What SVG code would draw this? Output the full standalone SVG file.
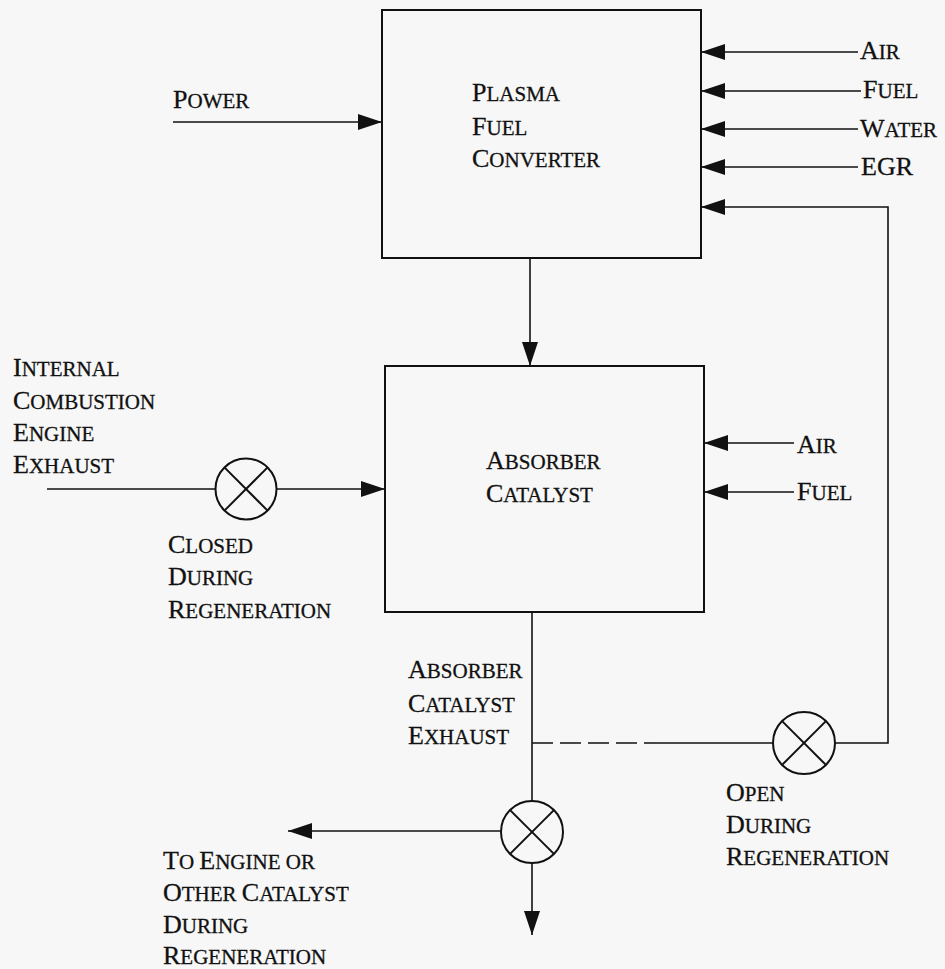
<svg xmlns="http://www.w3.org/2000/svg" width="945" height="969" viewBox="0 0 945 969">
<style>
text{font-family:"Liberation Serif","Times New Roman",serif;font-size:26px;fill:#111;stroke:#111;stroke-width:0.3}
.s{font-size:21px;text-transform:uppercase}
.box{fill:none;stroke:#111;stroke-width:2}
.ln{fill:none;stroke:#111;stroke-width:1.6}
.arr{marker-end:url(#ah)}
.valve circle{fill:none;stroke:#111;stroke-width:2}
.valve line{stroke:#111;stroke-width:2}
</style>
<defs>
<marker id="ah" markerUnits="userSpaceOnUse" markerWidth="26" markerHeight="17" refX="24" refY="8" orient="auto">
<path d="M0,0 L24,8 L0,16 z" fill="#111"/>
</marker>
</defs>
<rect width="945" height="969" fill="#f7f7f7"/>

<g id="connectors">
<line class="ln arr" x1="173" y1="122" x2="382" y2="122"/>
<line class="ln arr" x1="858" y1="52" x2="701" y2="52"/>
<line class="ln arr" x1="861" y1="91" x2="701" y2="91"/>
<line class="ln arr" x1="858" y1="129" x2="701" y2="129"/>
<line class="ln arr" x1="858" y1="167" x2="701" y2="167"/>
<line class="ln arr" x1="530" y1="258" x2="530" y2="366"/>
<line class="ln arr" x1="794" y1="443" x2="704" y2="443"/>
<line class="ln arr" x1="794" y1="492" x2="704" y2="492"/>
<line class="ln" x1="47" y1="489" x2="215.5" y2="489"/>
<line class="ln arr" x1="276.5" y1="489" x2="385" y2="489"/>
<line class="ln" x1="532" y1="612" x2="532" y2="801"/>
<line class="ln" x1="532" y1="743" x2="654" y2="743" stroke-dasharray="21 7"/>
<line class="ln" x1="654" y1="743" x2="773" y2="743"/>
<polyline class="ln arr" points="835,743 888,743 888,207 701,207"/>
<line class="ln arr" x1="501" y1="831" x2="288" y2="831"/>
<line class="ln arr" x1="532" y1="863" x2="532" y2="935"/>
</g>

<g id="plasma-fuel-converter">
<rect class="box" x="382" y="10" width="319" height="248"/>
<text x="472" y="101">P<tspan class="s">lasma</tspan></text>
<text x="472" y="135">F<tspan class="s">uel</tspan></text>
<text x="472" y="167">C<tspan class="s">onverter</tspan></text>
</g>

<g id="absorber-catalyst">
<rect class="box" x="385" y="366" width="319" height="246"/>
<text x="486" y="469">A<tspan class="s">bsorber</tspan></text>
<text x="486" y="502">C<tspan class="s">atalyst</tspan></text>
</g>

<g id="valve-closed" class="valve">
<circle cx="246" cy="489" r="30.5"/>
<line x1="224.4" y1="467.4" x2="267.6" y2="510.6"/>
<line x1="267.6" y1="467.4" x2="224.4" y2="510.6"/>
</g>

<g id="valve-open" class="valve">
<circle cx="804" cy="743" r="31"/>
<line x1="782.1" y1="721.1" x2="825.9" y2="764.9"/>
<line x1="825.9" y1="721.1" x2="782.1" y2="764.9"/>
</g>

<g id="valve-outlet" class="valve">
<circle cx="532" cy="832" r="31"/>
<line x1="510.1" y1="810.1" x2="553.9" y2="853.9"/>
<line x1="553.9" y1="810.1" x2="510.1" y2="853.9"/>
</g>

<g id="labels">
<text x="173" y="108">P<tspan class="s">ower</tspan></text>
<text x="860" y="59">A<tspan class="s">ir</tspan></text>
<text x="863" y="98">F<tspan class="s">uel</tspan></text>
<text x="860" y="137">W<tspan class="s">ater</tspan></text>
<text x="861" y="175">EGR</text>
<text x="797" y="453">A<tspan class="s">ir</tspan></text>
<text x="797" y="500">F<tspan class="s">uel</tspan></text>
<text x="13" y="376">I<tspan class="s">nternal</tspan></text>
<text x="13" y="409">C<tspan class="s">ombustion</tspan></text>
<text x="13" y="441">E<tspan class="s">ngine</tspan></text>
<text x="13" y="473">E<tspan class="s">xhaust</tspan></text>
<text x="168" y="553">C<tspan class="s">losed</tspan></text>
<text x="168" y="585">D<tspan class="s">uring</tspan></text>
<text x="168" y="618">R<tspan class="s">egeneration</tspan></text>
<text x="408" y="678">A<tspan class="s">bsorber</tspan></text>
<text x="408" y="712">C<tspan class="s">atalyst</tspan></text>
<text x="408" y="744">E<tspan class="s">xhaust</tspan></text>
<text x="726" y="801">O<tspan class="s">pen</tspan></text>
<text x="726" y="833">D<tspan class="s">uring</tspan></text>
<text x="726" y="865">R<tspan class="s">egeneration</tspan></text>
<text x="163" y="869">T<tspan class="s">o </tspan>E<tspan class="s">ngine or</tspan></text>
<text x="163" y="901">O<tspan class="s">ther </tspan>C<tspan class="s">atalyst</tspan></text>
<text x="163" y="933">D<tspan class="s">uring</tspan></text>
<text x="163" y="964">R<tspan class="s">egeneration</tspan></text>
</g>
</svg>
